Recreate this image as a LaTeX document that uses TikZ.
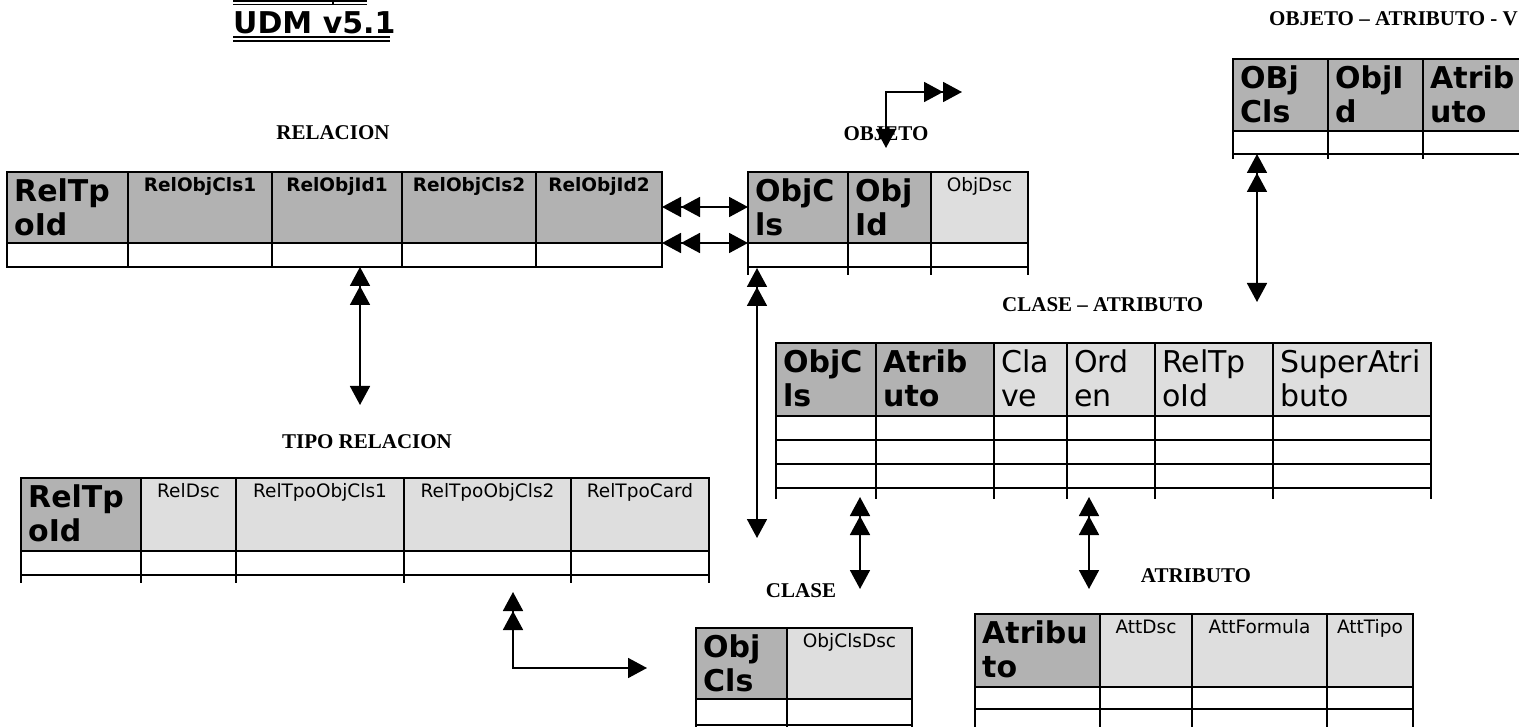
\documentclass[tikz,border=0pt]{standalone}
\usepackage{fontspec}
\setmainfont{Liberation Serif}
\newfontfamily\verdfont{DejaVu Sans}
\usepackage{tikz}
\usetikzlibrary{positioning,arrows.meta}
\definecolor{keygray}{RGB}{178,178,178}
\definecolor{attgray}{RGB}{222,222,222}
\newcommand{\bigsans}{\verdfont\fontsize{30}{34}\selectfont}
\newcommand{\smallsans}{\verdfont\fontsize{18.5}{22}\selectfont}
\tikzset{
    tblline/.style={draw=black, line width=2.4pt, line cap=rect},
    keycell/.style={fill=keygray},
    attcell/.style={fill=attgray},
    keyname/.style={anchor=north west, inner sep=0pt, align=left, font=\bigsans\bfseries},
    attname/.style={anchor=north west, inner sep=0pt, align=left, font=\bigsans},
    keysmall/.style={anchor=base, inner sep=0pt, font=\smallsans\bfseries},
    attsmall/.style={anchor=base, inner sep=0pt, font=\smallsans},
    tbltitle/.style={anchor=base, inner sep=0pt, font=\bfseries\fontsize{21}{24}\selectfont},
    link/.style={line width=1.8pt, {Triangle[length=19pt,width=20pt,sep=0pt] Triangle[length=19pt,width=20pt,sep=0pt]}-{Triangle[length=19pt,width=20pt]}}
}

\begin{document}
\begin{tikzpicture}[x=1pt,y=-1pt]
\useasboundingbox (0,0) rectangle (1519,727);
\clip (0,0) rectangle (1519,727);
\draw[line width=1.2pt] (233,1) -- (367,1) (233,4.5) -- (367,4.5) (333,0) -- (333,5);
\node[anchor=base west, inner sep=0pt, font=\verdfont\bfseries\fontsize{30}{36}\selectfont] (title) at (233,34) {UDM v5.1};
\draw[line width=1.6pt] (233,37) -- (390,37) (233,41) -- (390,41);

\fill[keycell] (7,172) rectangle (662,243);
\foreach \x in {7,128,272,402,536,662} \draw[tblline] (\x,172) -- (\x,267);
\foreach \y in {172,243,267} \draw[tblline] (7,\y) -- (662,\y);
\node[tbltitle] (relTitle) at (333,140) {RELACION};
\node[keyname] (relTpoId) at (14,179) {RelTp\\oId};
\node[keysmall] (relCls1) at (200,191.5) {RelObjCls1};
\node[keysmall] (relId1) at (337,191.5) {RelObjId1};
\node[keysmall] (relCls2) at (469,191.5) {RelObjCls2};
\node[keysmall] (relId2) at (599,191.5) {RelObjId2};

\fill[keycell] (748,172) rectangle (931,243);
\fill[attcell] (931,172) rectangle (1028,243);
\foreach \x in {748,848,931,1028} \draw[tblline] (\x,172) -- (\x,274);
\foreach \y in {172,243,267} \draw[tblline] (748,\y) -- (1028,\y);
\node[tbltitle] (objTitle) at (886,141) {OBJETO};
\node[keyname] (objCls) at (755,179) {ObjC\\ls};
\node[keyname] (objId) at (855,179) {Obj\\Id};
\node[attsmall] (objDsc) at (979.5,191.5) {ObjDsc};

\fill[keycell] (1233,59) rectangle (1540,131);
\foreach \x in {1233,1328,1423} \draw[tblline] (\x,59) -- (\x,158);
\foreach \y in {59,131,154} \draw[tblline] (1233,\y) -- (1540,\y);
\node[tbltitle, anchor=base west] (oavTitle) at (1269,26) {OBJETO – ATRIBUTO - V};
\node[keyname] (oavCls) at (1240,66) {OBj\\Cls};
\node[keyname] (oavId) at (1335,66) {ObjI\\d};
\node[keyname] (oavAtt) at (1430,66) {Atrib\\uto};

\fill[keycell] (776,343) rectangle (994,416);
\fill[attcell] (994,343) rectangle (1431,416);
\foreach \x in {776,876,994,1067,1155,1273,1431} \draw[tblline] (\x,343) -- (\x,498);
\foreach \y in {343,416,440,464,488} \draw[tblline] (776,\y) -- (1431,\y);
\node[tbltitle, anchor=base west] (caTitle) at (1002,312) {CLASE – ATRIBUTO};
\node[keyname] (caCls) at (783,350) {ObjC\\ls};
\node[keyname] (caAtt) at (883,350) {Atrib\\uto};
\node[attname] (caClave) at (1001,350) {Cla\\ve};
\node[attname] (caOrden) at (1074,350) {Ord\\en};
\node[attname] (caRelTpo) at (1162,350) {RelTp\\oId};
\node[attname] (caSuper) at (1280,350) {SuperAtri\\buto};

\fill[keycell] (21,478) rectangle (141,551);
\fill[attcell] (141,478) rectangle (709,551);
\foreach \x in {21,141,236,404,571,709} \draw[tblline] (\x,478) -- (\x,582);
\foreach \y in {478,551,575} \draw[tblline] (21,\y) -- (709,\y);
\node[tbltitle] (tipoTitle) at (367,448) {TIPO RELACION};
\node[keyname] (tipoId) at (28,485) {RelTp\\oId};
\node[attsmall] (tipoDsc) at (188.5,497.5) {RelDsc};
\node[attsmall] (tipoCls1) at (320,497.5) {RelTpoObjCls1};
\node[attsmall] (tipoCls2) at (487.5,497.5) {RelTpoObjCls2};
\node[attsmall] (tipoCard) at (640,497.5) {RelTpoCard};

\fill[keycell] (696,628) rectangle (787,699);
\fill[attcell] (787,628) rectangle (912,699);
\foreach \x in {696,787,912} \draw[tblline] (\x,628) -- (\x,735);
\foreach \y in {628,699,725} \draw[tblline] (696,\y) -- (912,\y);
\node[tbltitle] (claseTitle) at (801,597) {CLASE};
\node[keyname] (claseCls) at (703,635) {Obj\\Cls};
\node[attsmall] (claseDsc) at (849.5,647.5) {ObjClsDsc};

\fill[keycell] (975,614) rectangle (1100,687);
\fill[attcell] (1100,614) rectangle (1413,687);
\foreach \x in {975,1100,1192,1327,1413} \draw[tblline] (\x,614) -- (\x,735);
\foreach \y in {614,687,709} \draw[tblline] (975,\y) -- (1413,\y);
\node[tbltitle] (attTitle) at (1196,582) {ATRIBUTO};
\node[keyname] (attId) at (982,621) {Atribu\\to};
\node[attsmall] (attDsc) at (1146,633.5) {AttDsc};
\node[attsmall] (attFormula) at (1259.5,633.5) {AttFormula};
\node[attsmall] (attTipo) at (1370,633.5) {AttTipo};

\coordinate (relBot) at (360,267);
\coordinate (tipoTop) at (360,405);
\coordinate (relRightA) at (662,207);
\coordinate (objLeftA) at (748,207);
\coordinate (relRightB) at (662,243);
\coordinate (objLeftB) at (748,243);
\coordinate (objSelfEnd) at (962,92);
\coordinate (objSelfTip) at (886,148);
\coordinate (objBot) at (757,268);
\coordinate (objDown) at (757,538);
\coordinate (oavBot) at (1257,154);
\coordinate (caTop) at (1257,302);
\coordinate (caBotA) at (860,497);
\coordinate (claseTop) at (860,589);
\coordinate (caBotB) at (1089,497);
\coordinate (attTop) at (1089,589);
\coordinate (tipoBot) at (513,592);
\coordinate (tipoOut) at (647,668);
\draw[link] (relBot) -- (tipoTop);
\draw[link] (relRightA) -- (objLeftA);
\draw[link] (relRightB) -- (objLeftB);
\draw[link] (objSelfEnd) -| (objSelfTip);
\draw[link] (objBot) -- (objDown);
\draw[link] (oavBot) -- (caTop);
\draw[link] (caBotA) -- (claseTop);
\draw[link] (caBotB) -- (attTop);
\draw[link] (tipoBot) |- (tipoOut);
\end{tikzpicture}
\end{document}
